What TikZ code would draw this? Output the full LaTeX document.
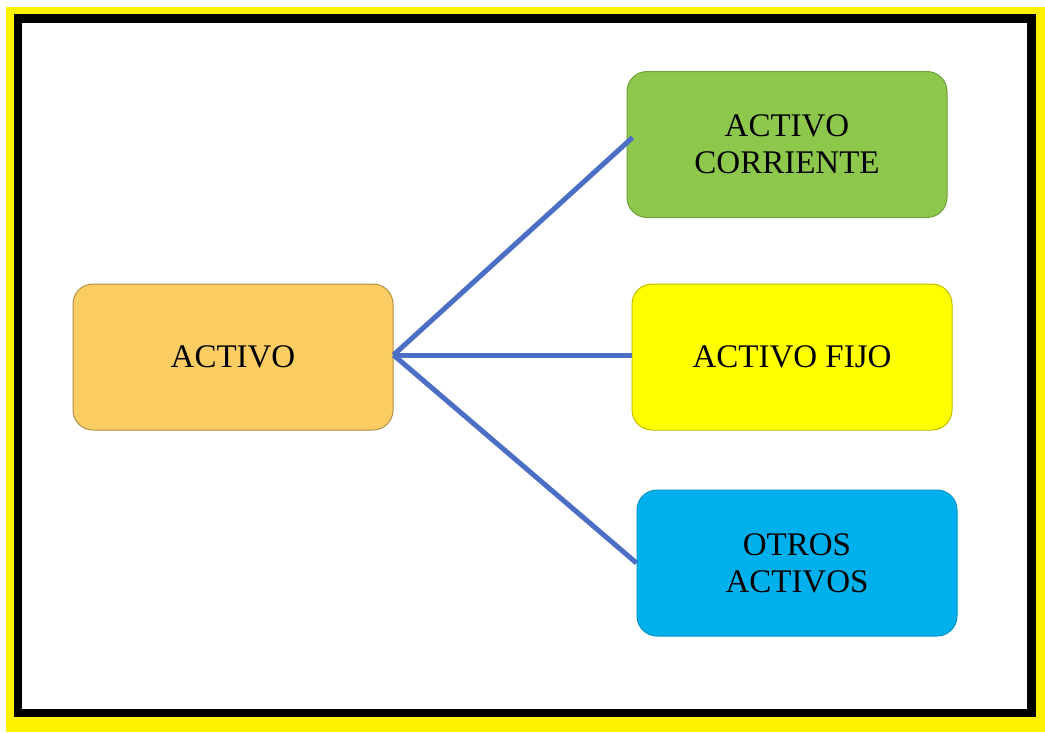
\documentclass[tikz,border=0pt]{standalone}
\usepackage{fontspec}
\setmainfont{Liberation Serif}
\definecolor{cOrange}{HTML}{FBCD62}
\definecolor{cGreen}{HTML}{8DC84C}
\definecolor{cYellow}{HTML}{FFFF00}
\definecolor{cBlue}{HTML}{00B0EC}
\definecolor{cLine}{HTML}{4A6FC4}
\begin{document}
\begin{tikzpicture}[x=1pt,y=-1pt,
  boxnode/.style={rounded corners=20pt, minimum width=320pt, minimum height=146pt,
    align=center, font=\fontsize{33}{37}\selectfont, line width=1pt, inner sep=0pt},
  link/.style={draw=cLine, line width=5pt}]
\useasboundingbox (0,0) rectangle (1045,732);
\fill[yellow] (6,7) rectangle (1045,732);
\draw[black, line width=8.5pt, fill=white] (18,18.5) rectangle (1031.5,713);
\node[boxnode, fill=cOrange, draw=cOrange!70!black] (act) at (233,357) {ACTIVO};
\node[boxnode, fill=cGreen, draw=cGreen!80!black] (cor) at (787,144.5) {ACTIVO\\CORRIENTE};
\node[boxnode, fill=cYellow, draw=cYellow!75!black] (fij) at (792,357) {ACTIVO FIJO};
\node[boxnode, fill=cBlue, draw=cBlue!85!black] (otr) at (797,563) {OTROS\\ACTIVOS};
\draw[link] ([yshift=2pt]act.east) -- ([xshift=6pt,yshift=7pt]cor.west);
\draw[link] ([yshift=2pt]act.east) -- ([yshift=2pt]fij.west);
\draw[link] ([yshift=2pt]act.east) -- (otr.west);
\end{tikzpicture}
\end{document}
